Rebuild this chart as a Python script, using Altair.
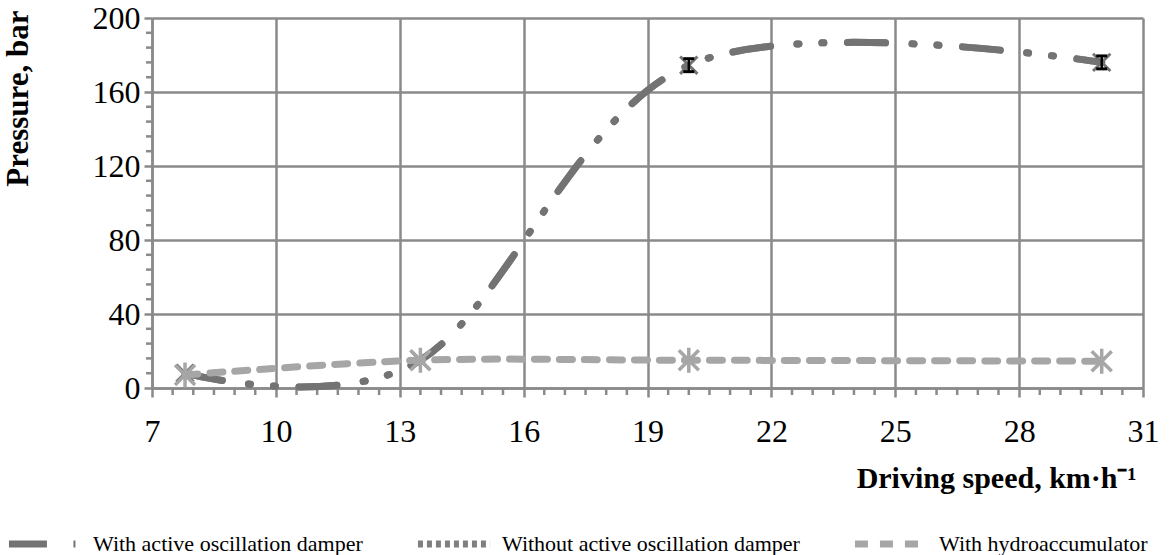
import altair as alt
import pandas as pd

# ---- data ----
series_names = [
    "With active oscillation damper",
    "Without active oscillation damper",
    "With hydroaccumulator",
]
speed = [7.8, 13.5, 20.0, 30.0]
with_damper = [8.0, 15.0, 174.5, 176.0]
without_damper = [8.0, 15.0, 174.5, 176.0]   # coincides with the damper series
with_hydro = [7.0, 15.0, 15.0, 14.5]

err_speed = [20.0, 30.0]
err_low = [171.0, 172.5]
err_high = [178.0, 179.5]

x_ticks = [7, 10, 13, 16, 19, 22, 25, 28, 31]
y_ticks = [0, 40, 80, 120, 160, 200]
x_minor = [7 + 0.5 * i for i in range(1, 48) if i % 6 != 0]
y_minor = [8 * i for i in range(1, 25) if i % 5 != 0]

# ---- styling ----
FONT = "Liberation Serif"
GRID = "#8a8a8a"
C1, C2, C3 = "#737373", "#7f7f7f", "#a6a6a6"
DASH1 = [38, 26.5, 2, 23, 2, 23.5]
DASH2 = [5, 4]
DASH3 = [13, 12]
W, H = 991, 370

rows = []
for name, vals in zip(series_names, [with_damper, without_damper, with_hydro]):
    for sx, sy in zip(speed, vals):
        rows.append({"speed": sx, "pressure": sy, "series": name})
df = pd.DataFrame(rows)
err_df = pd.DataFrame({"speed": err_speed, "lo": err_low, "hi": err_high})

xscale = alt.Scale(domain=[7, 31], nice=False, zero=False)
yscale = alt.Scale(domain=[0, 200], nice=False, zero=True)

x_axis = alt.Axis(
    values=x_ticks, grid=True, gridColor=GRID, gridWidth=2.5,
    domainColor=GRID, domainWidth=2.5, tickColor=GRID, tickWidth=2.5, tickSize=9,
    labelFont=FONT, labelFontSize=32, labelColor="black", labelPadding=19,
    labelFlush=False, title="Driving speed, km·h⁻¹", titleFont=FONT,
    titleFontSize=30, titleFontWeight="bold", titleColor="black",
    titleAnchor="end", titleX=984, titleY=90, titleBaseline="middle",
)
y_axis = alt.Axis(
    values=y_ticks, grid=True, gridColor=GRID, gridWidth=2.5,
    domainColor=GRID, domainWidth=2.5, tickColor=GRID, tickWidth=2.5, tickSize=8,
    labelFont=FONT, labelFontSize=32, labelColor="black", labelPadding=4,
    labelFlush=False, title="Pressure, bar", titleFont=FONT,
    titleFontSize=31, titleFontWeight="bold", titleColor="black",
    titleAnchor="end", titleX=-134, titleY=-8, titleBaseline="middle",
)

X = alt.X("speed:Q", scale=xscale, axis=x_axis)
Y = alt.Y("pressure:Q", scale=yscale, axis=y_axis)

legend = alt.Legend(
    orient="none", legendX=-147, legendY=486, direction="horizontal",
    title=None, symbolType="stroke", symbolSize=5200, symbolStrokeWidth=7,
    labelFont=FONT, labelFontSize=22, labelColor="black", labelLimit=600,
    columnPadding=40, labelOffset=8, columns=3,
)
color_scale = alt.Scale(domain=series_names, range=[C1, C2, C3])
dash_scale = alt.Scale(domain=series_names, range=[DASH1, DASH2, DASH3])
COLOR = alt.Color("series:N", scale=color_scale, legend=legend, sort=series_names)
DASH = alt.StrokeDash("series:N", scale=dash_scale, legend=legend, sort=series_names)

# minor ticks
minor_x = alt.Chart(pd.DataFrame({"speed": x_minor})).mark_rule(
    color=GRID, strokeWidth=2.5
).encode(x=X, y=alt.value(H), y2=alt.value(H + 7))
minor_y = alt.Chart(pd.DataFrame({"pressure": y_minor})).mark_rule(
    color=GRID, strokeWidth=2.5
).encode(y=Y, x=alt.value(0), x2=alt.value(-6))

base = alt.Chart(df)
line_kw = dict(strokeWidth=7, strokeCap="round", interpolate="cardinal")

line2 = base.transform_filter(alt.datum.series == series_names[1]).mark_line(
    strokeDash=DASH1, **line_kw
).encode(x=X, y=Y, color=COLOR)
line1 = base.transform_filter(alt.datum.series == series_names[0]).mark_line(
    **line_kw
).encode(x=X, y=Y, color=COLOR, strokeDash=DASH)
line3 = base.transform_filter(alt.datum.series == series_names[2]).mark_line(
    **line_kw
).encode(x=X, y=Y, color=COLOR, strokeDash=DASH)

X_SHAPE = "M-1,-1L1,1M1,-1L-1,1"
AST_SHAPE = "M-1,-1L1,1M1,-1L-1,1M0,-1.25L0,1.25"

marks1 = base.transform_filter(alt.datum.series == series_names[0]).mark_point(
    shape=X_SHAPE, size=300, strokeWidth=3, color=C1, filled=False, opacity=1
).encode(x=X, y=Y)

err_rule = alt.Chart(err_df).mark_rule(color="black", strokeWidth=2.5).encode(
    x=alt.X("speed:Q", scale=xscale, axis=x_axis),
    y=alt.Y("lo:Q", scale=yscale, axis=y_axis), y2="hi:Q")
err_lo = alt.Chart(err_df).mark_tick(color="black", thickness=3, size=11,
                                     orient="horizontal", opacity=1).encode(
    x=alt.X("speed:Q", scale=xscale, axis=x_axis),
    y=alt.Y("lo:Q", scale=yscale, axis=y_axis))
err_hi = alt.Chart(err_df).mark_tick(color="black", thickness=3, size=11,
                                     orient="horizontal", opacity=1).encode(
    x=alt.X("speed:Q", scale=xscale, axis=x_axis),
    y=alt.Y("hi:Q", scale=yscale, axis=y_axis))

marks3 = base.transform_filter(alt.datum.series == series_names[2]).mark_point(
    shape=AST_SHAPE, size=400, strokeWidth=3.5, color=C3, filled=False, opacity=1
).encode(x=X, y=Y)

chart = alt.layer(
    minor_x, minor_y, line2, line1, marks1, err_rule, err_lo, err_hi, line3, marks3
).properties(
    width=W, height=H,
    autosize=alt.AutoSizeParams(type="none"),
    padding={"left": 152, "top": 18, "right": 30, "bottom": 167},
    background="white",
).configure_view(stroke=None)

chart.save("out.html", embed_options={"renderer": "svg", "actions": False})
